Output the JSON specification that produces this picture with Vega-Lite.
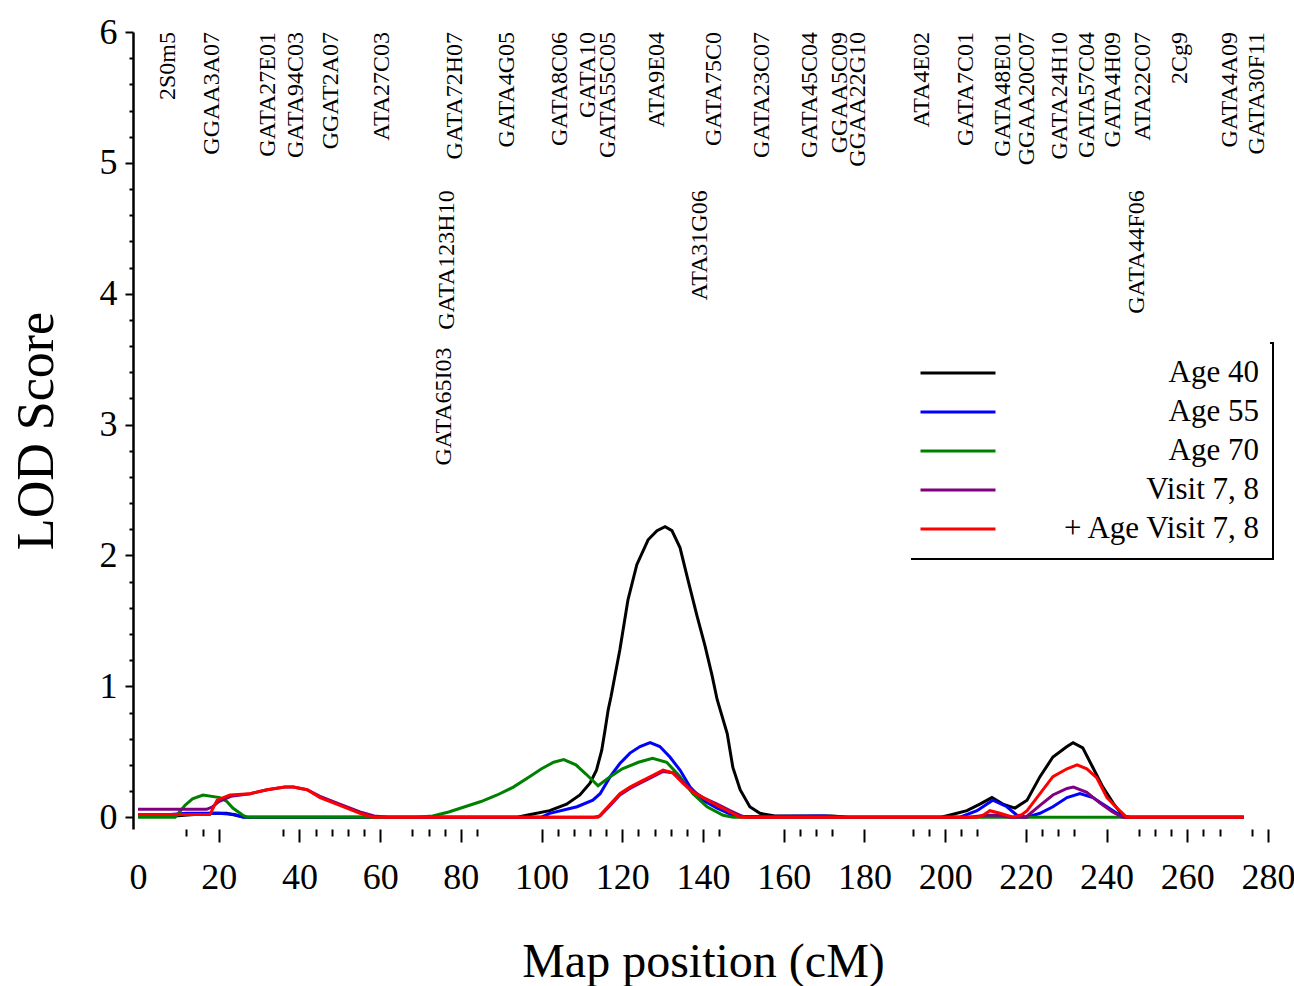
{
  "$schema": "https://vega.github.io/schema/vega-lite/v6.json",
  "width": 1130,
  "height": 797,
  "autosize": {"type": "none"},
  "padding": {"left": 138, "top": 32, "right": 26, "bottom": 157},
  "background": "white",
  "datasets": {
    "curves": [
      {"s":"Age 40","pos":0,"lod":0.01},{"s":"Age 40","pos":9,"lod":0.01},{"s":"Age 40","pos":14,"lod":0.02},{"s":"Age 40","pos":18,"lod":0.03},{"s":"Age 40","pos":22,"lod":0.03},{"s":"Age 40","pos":25,"lod":0.01},{"s":"Age 40","pos":27,"lod":0},{"s":"Age 40","pos":94,"lod":0},{"s":"Age 40","pos":96.3,"lod":0.015},{"s":"Age 40","pos":102,"lod":0.05},{"s":"Age 40","pos":106.2,"lod":0.1},{"s":"Age 40","pos":109.5,"lod":0.17},{"s":"Age 40","pos":112,"lod":0.26},{"s":"Age 40","pos":113.6,"lod":0.36},{"s":"Age 40","pos":114.9,"lod":0.51},{"s":"Age 40","pos":115.7,"lod":0.66},{"s":"Age 40","pos":116.5,"lod":0.82},{"s":"Age 40","pos":117.2,"lod":0.92},{"s":"Age 40","pos":119.4,"lod":1.28},{"s":"Age 40","pos":121.4,"lod":1.66},{"s":"Age 40","pos":123.6,"lod":1.93},{"s":"Age 40","pos":126.4,"lod":2.12},{"s":"Age 40","pos":128.6,"lod":2.19},{"s":"Age 40","pos":130.6,"lod":2.22},{"s":"Age 40","pos":132.3,"lod":2.19},{"s":"Age 40","pos":134.3,"lod":2.06},{"s":"Age 40","pos":136.3,"lod":1.81},{"s":"Age 40","pos":138.5,"lod":1.54},{"s":"Age 40","pos":140.5,"lod":1.31},{"s":"Age 40","pos":142.2,"lod":1.09},{"s":"Age 40","pos":143.5,"lod":0.9},{"s":"Age 40","pos":146,"lod":0.64},{"s":"Age 40","pos":147.4,"lod":0.38},{"s":"Age 40","pos":149.2,"lod":0.21},{"s":"Age 40","pos":151.6,"lod":0.08},{"s":"Age 40","pos":154.1,"lod":0.03},{"s":"Age 40","pos":157.8,"lod":0.01},{"s":"Age 40","pos":172,"lod":0.01},{"s":"Age 40","pos":176,"lod":0},{"s":"Age 40","pos":199,"lod":0},{"s":"Age 40","pos":201,"lod":0.015},{"s":"Age 40","pos":205.4,"lod":0.05},{"s":"Age 40","pos":208.6,"lod":0.1},{"s":"Age 40","pos":211.6,"lod":0.15},{"s":"Age 40","pos":214.3,"lod":0.1},{"s":"Age 40","pos":217.3,"lod":0.07},{"s":"Age 40","pos":220.3,"lod":0.13},{"s":"Age 40","pos":223.5,"lod":0.31},{"s":"Age 40","pos":226.7,"lod":0.46},{"s":"Age 40","pos":230.2,"lod":0.54},{"s":"Age 40","pos":231.7,"lod":0.57},{"s":"Age 40","pos":234.1,"lod":0.53},{"s":"Age 40","pos":236.6,"lod":0.38},{"s":"Age 40","pos":239.1,"lod":0.23},{"s":"Age 40","pos":241.6,"lod":0.11},{"s":"Age 40","pos":243.8,"lod":0.02},{"s":"Age 40","pos":244.8,"lod":0},{"s":"Age 40","pos":274,"lod":0},
      {"s":"Age 55","pos":0,"lod":0.01},{"s":"Age 55","pos":8,"lod":0.02},{"s":"Age 55","pos":12,"lod":0.03},{"s":"Age 55","pos":20,"lod":0.03},{"s":"Age 55","pos":24,"lod":0.02},{"s":"Age 55","pos":26,"lod":0},{"s":"Age 55","pos":100,"lod":0},{"s":"Age 55","pos":102,"lod":0.03},{"s":"Age 55","pos":108.8,"lod":0.08},{"s":"Age 55","pos":112.7,"lod":0.13},{"s":"Age 55","pos":114.5,"lod":0.18},{"s":"Age 55","pos":117,"lod":0.31},{"s":"Age 55","pos":119.4,"lod":0.41},{"s":"Age 55","pos":121.9,"lod":0.49},{"s":"Age 55","pos":124.4,"lod":0.54},{"s":"Age 55","pos":126.9,"lod":0.57},{"s":"Age 55","pos":129.3,"lod":0.54},{"s":"Age 55","pos":131.8,"lod":0.46},{"s":"Age 55","pos":134.3,"lod":0.36},{"s":"Age 55","pos":136.8,"lod":0.23},{"s":"Age 55","pos":140,"lod":0.13},{"s":"Age 55","pos":143.5,"lod":0.07},{"s":"Age 55","pos":147.4,"lod":0.015},{"s":"Age 55","pos":150,"lod":0.005},{"s":"Age 55","pos":170,"lod":0.01},{"s":"Age 55","pos":175,"lod":0},{"s":"Age 55","pos":203.7,"lod":0},{"s":"Age 55","pos":207.9,"lod":0.05},{"s":"Age 55","pos":211.8,"lod":0.13},{"s":"Age 55","pos":215.3,"lod":0.08},{"s":"Age 55","pos":217.8,"lod":0.015},{"s":"Age 55","pos":220.3,"lod":0},{"s":"Age 55","pos":223.5,"lod":0.03},{"s":"Age 55","pos":226.7,"lod":0.08},{"s":"Age 55","pos":230.2,"lod":0.15},{"s":"Age 55","pos":233.4,"lod":0.18},{"s":"Age 55","pos":236.6,"lod":0.15},{"s":"Age 55","pos":240.1,"lod":0.08},{"s":"Age 55","pos":243.3,"lod":0.015},{"s":"Age 55","pos":245.8,"lod":0},{"s":"Age 55","pos":274,"lod":0},
      {"s":"Age 70","pos":0,"lod":0},{"s":"Age 70","pos":9.2,"lod":0},{"s":"Age 70","pos":11.6,"lod":0.09},{"s":"Age 70","pos":13.5,"lod":0.14},{"s":"Age 70","pos":16.1,"lod":0.17},{"s":"Age 70","pos":20.3,"lod":0.15},{"s":"Age 70","pos":22,"lod":0.12},{"s":"Age 70","pos":23.5,"lod":0.07},{"s":"Age 70","pos":26,"lod":0.015},{"s":"Age 70","pos":27,"lod":0},{"s":"Age 70","pos":69,"lod":0},{"s":"Age 70","pos":73,"lod":0.01},{"s":"Age 70","pos":77,"lod":0.04},{"s":"Age 70","pos":81,"lod":0.08},{"s":"Age 70","pos":85,"lod":0.12},{"s":"Age 70","pos":89,"lod":0.17},{"s":"Age 70","pos":93,"lod":0.23},{"s":"Age 70","pos":97,"lod":0.31},{"s":"Age 70","pos":100,"lod":0.37},{"s":"Age 70","pos":103,"lod":0.42},{"s":"Age 70","pos":105.5,"lod":0.44},{"s":"Age 70","pos":108.5,"lod":0.4},{"s":"Age 70","pos":111,"lod":0.33},{"s":"Age 70","pos":114,"lod":0.24},{"s":"Age 70","pos":117,"lod":0.31},{"s":"Age 70","pos":120,"lod":0.37},{"s":"Age 70","pos":124,"lod":0.42},{"s":"Age 70","pos":127.5,"lod":0.45},{"s":"Age 70","pos":131,"lod":0.42},{"s":"Age 70","pos":134,"lod":0.32},{"s":"Age 70","pos":137.5,"lod":0.18},{"s":"Age 70","pos":141,"lod":0.08},{"s":"Age 70","pos":145,"lod":0.015},{"s":"Age 70","pos":147.5,"lod":0},{"s":"Age 70","pos":274,"lod":0},
      {"s":"Visit 7, 8","pos":0,"lod":0.06},{"s":"Visit 7, 8","pos":17,"lod":0.06},{"s":"Visit 7, 8","pos":18.5,"lod":0.08},{"s":"Visit 7, 8","pos":20,"lod":0.12},{"s":"Visit 7, 8","pos":23,"lod":0.16},{"s":"Visit 7, 8","pos":27.8,"lod":0.18},{"s":"Visit 7, 8","pos":32,"lod":0.21},{"s":"Visit 7, 8","pos":36.4,"lod":0.23},{"s":"Visit 7, 8","pos":38.5,"lod":0.23},{"s":"Visit 7, 8","pos":41.9,"lod":0.21},{"s":"Visit 7, 8","pos":45.1,"lod":0.16},{"s":"Visit 7, 8","pos":50,"lod":0.1},{"s":"Visit 7, 8","pos":55,"lod":0.04},{"s":"Visit 7, 8","pos":58.5,"lod":0.01},{"s":"Visit 7, 8","pos":62,"lod":0},{"s":"Visit 7, 8","pos":113,"lod":0},{"s":"Visit 7, 8","pos":114.5,"lod":0.01},{"s":"Visit 7, 8","pos":117,"lod":0.09},{"s":"Visit 7, 8","pos":119.4,"lod":0.17},{"s":"Visit 7, 8","pos":121.9,"lod":0.22},{"s":"Visit 7, 8","pos":124.4,"lod":0.26},{"s":"Visit 7, 8","pos":127.6,"lod":0.31},{"s":"Visit 7, 8","pos":130.1,"lod":0.35},{"s":"Visit 7, 8","pos":132.5,"lod":0.34},{"s":"Visit 7, 8","pos":135,"lod":0.27},{"s":"Visit 7, 8","pos":137.5,"lod":0.2},{"s":"Visit 7, 8","pos":140,"lod":0.15},{"s":"Visit 7, 8","pos":143.5,"lod":0.1},{"s":"Visit 7, 8","pos":146.7,"lod":0.05},{"s":"Visit 7, 8","pos":149.5,"lod":0.01},{"s":"Visit 7, 8","pos":151,"lod":0},{"s":"Visit 7, 8","pos":206,"lod":0},{"s":"Visit 7, 8","pos":210,"lod":0.015},{"s":"Visit 7, 8","pos":213,"lod":0.015},{"s":"Visit 7, 8","pos":216,"lod":0},{"s":"Visit 7, 8","pos":220,"lod":0},{"s":"Visit 7, 8","pos":223.5,"lod":0.09},{"s":"Visit 7, 8","pos":226.7,"lod":0.17},{"s":"Visit 7, 8","pos":230.2,"lod":0.22},{"s":"Visit 7, 8","pos":231.8,"lod":0.23},{"s":"Visit 7, 8","pos":235.1,"lod":0.19},{"s":"Visit 7, 8","pos":238.3,"lod":0.11},{"s":"Visit 7, 8","pos":241.5,"lod":0.04},{"s":"Visit 7, 8","pos":244,"lod":0},{"s":"Visit 7, 8","pos":274,"lod":0},
      {"s":"+ Age Visit 7, 8","pos":0,"lod":0.02},{"s":"+ Age Visit 7, 8","pos":17.8,"lod":0.02},{"s":"+ Age Visit 7, 8","pos":19.6,"lod":0.13},{"s":"+ Age Visit 7, 8","pos":22.8,"lod":0.17},{"s":"+ Age Visit 7, 8","pos":27.8,"lod":0.18},{"s":"+ Age Visit 7, 8","pos":32,"lod":0.21},{"s":"+ Age Visit 7, 8","pos":36.4,"lod":0.23},{"s":"+ Age Visit 7, 8","pos":38.5,"lod":0.23},{"s":"+ Age Visit 7, 8","pos":41.9,"lod":0.21},{"s":"+ Age Visit 7, 8","pos":45.1,"lod":0.15},{"s":"+ Age Visit 7, 8","pos":50,"lod":0.09},{"s":"+ Age Visit 7, 8","pos":55,"lod":0.03},{"s":"+ Age Visit 7, 8","pos":58.2,"lod":0},{"s":"+ Age Visit 7, 8","pos":114,"lod":0},{"s":"+ Age Visit 7, 8","pos":114.5,"lod":0.015},{"s":"+ Age Visit 7, 8","pos":117,"lod":0.1},{"s":"+ Age Visit 7, 8","pos":119.4,"lod":0.18},{"s":"+ Age Visit 7, 8","pos":121.9,"lod":0.23},{"s":"+ Age Visit 7, 8","pos":124.4,"lod":0.27},{"s":"+ Age Visit 7, 8","pos":127.6,"lod":0.32},{"s":"+ Age Visit 7, 8","pos":130.1,"lod":0.36},{"s":"+ Age Visit 7, 8","pos":132.5,"lod":0.34},{"s":"+ Age Visit 7, 8","pos":135,"lod":0.26},{"s":"+ Age Visit 7, 8","pos":137.5,"lod":0.19},{"s":"+ Age Visit 7, 8","pos":140,"lod":0.15},{"s":"+ Age Visit 7, 8","pos":143.5,"lod":0.09},{"s":"+ Age Visit 7, 8","pos":146.7,"lod":0.04},{"s":"+ Age Visit 7, 8","pos":149.2,"lod":0},{"s":"+ Age Visit 7, 8","pos":208,"lod":0},{"s":"+ Age Visit 7, 8","pos":209.4,"lod":0.015},{"s":"+ Age Visit 7, 8","pos":211.1,"lod":0.05},{"s":"+ Age Visit 7, 8","pos":213.6,"lod":0.03},{"s":"+ Age Visit 7, 8","pos":216.8,"lod":0},{"s":"+ Age Visit 7, 8","pos":219,"lod":0.02},{"s":"+ Age Visit 7, 8","pos":220.3,"lod":0.05},{"s":"+ Age Visit 7, 8","pos":223.5,"lod":0.18},{"s":"+ Age Visit 7, 8","pos":226.7,"lod":0.31},{"s":"+ Age Visit 7, 8","pos":230.2,"lod":0.37},{"s":"+ Age Visit 7, 8","pos":232.7,"lod":0.4},{"s":"+ Age Visit 7, 8","pos":235.1,"lod":0.37},{"s":"+ Age Visit 7, 8","pos":237.6,"lod":0.3},{"s":"+ Age Visit 7, 8","pos":240.1,"lod":0.15},{"s":"+ Age Visit 7, 8","pos":242.6,"lod":0.07},{"s":"+ Age Visit 7, 8","pos":245,"lod":0},{"s":"+ Age Visit 7, 8","pos":274,"lod":0}
    ],
    "markers": [
      {"label":"2S0m5","pos":7.4,"top":6},
      {"label":"GGAA3A07","pos":18.3,"top":6},
      {"label":"GATA27E01","pos":32.2,"top":6},
      {"label":"GATA94C03","pos":39.1,"top":6},
      {"label":"GGAT2A07","pos":47.8,"top":6},
      {"label":"ATA27C03","pos":60.5,"top":6},
      {"label":"GATA123H10","pos":76.6,"top":4.79},
      {"label":"GATA65I03","pos":75.9,"top":3.59},
      {"label":"GATA72H07","pos":78.5,"top":6},
      {"label":"GATA4G05","pos":91.4,"top":6},
      {"label":"GATA8C06","pos":104.6,"top":6},
      {"label":"GATA10","pos":111.5,"top":6},
      {"label":"GATA55C05","pos":116.5,"top":6},
      {"label":"ATA9E04","pos":128.6,"top":6},
      {"label":"ATA31G06","pos":139.2,"top":4.79},
      {"label":"GATA75C0","pos":142.7,"top":6},
      {"label":"GATA23C07","pos":154.6,"top":6},
      {"label":"GATA45C04","pos":166.5,"top":6},
      {"label":"GGAA5C09","pos":174,"top":6},
      {"label":"GGAA22G10","pos":178.4,"top":6},
      {"label":"ATA4E02","pos":194.3,"top":6},
      {"label":"GATA7C01","pos":205.2,"top":6},
      {"label":"GATA48E01","pos":214.3,"top":6},
      {"label":"GGAA20C07","pos":220.3,"top":6},
      {"label":"GATA24H10","pos":228.4,"top":6},
      {"label":"GATA57C04","pos":235.2,"top":6},
      {"label":"GATA4H09","pos":241.6,"top":6},
      {"label":"GATA44F06","pos":247.5,"top":4.79},
      {"label":"ATA22C07","pos":249,"top":6},
      {"label":"2Cg9","pos":258.2,"top":6},
      {"label":"GATA4A09","pos":270.6,"top":6},
      {"label":"GATA30F11","pos":277.3,"top":6}
    ]
  },
  "layer": [
    {
      "data": {"name": "curves"},
      "mark": {"type": "line", "strokeWidth": 3, "interpolate": "linear"},
      "encoding": {
        "x": {
          "field": "pos", "type": "quantitative",
          "scale": {"domain": [0, 280], "nice": false, "zero": false},
          "axis": {
            "values": [0, 20, 40, 60, 80, 100, 120, 140, 160, 180, 200, 220, 240, 260, 280],
            "domain": false, "grid": false,
            "tickSize": 13, "tickWidth": 2,
            "tickOpacity": {"condition": {"test": "datum.value == 0", "value": 0}, "value": 1},
            "labelFontSize": 36, "labelPadding": 18, "labelFlush": false, "labelOverlap": false,
            "title": "Map position (cM)", "titleFontSize": 48, "titlePadding": 43
          }
        },
        "y": {
          "field": "lod", "type": "quantitative",
          "scale": {"domain": [-0.09, 6], "nice": false, "zero": false},
          "axis": {
            "values": [0, 1, 2, 3, 4, 5, 6],
            "offset": 5, "domainWidth": 2.5, "grid": false,
            "tickSize": 8, "tickWidth": 2,
            "labelFontSize": 36, "labelPadding": 8, "labelFlush": false,
            "title": "LOD Score", "titleFontSize": 52, "titlePadding": 36
          }
        },
        "color": {
          "field": "s", "type": "nominal",
          "scale": {
            "domain": ["Age 40", "Age 55", "Age 70", "Visit 7, 8", "+ Age Visit 7, 8"],
            "range": ["#000000", "#0000ff", "#008000", "#800080", "#ff0000"]
          },
          "legend": {
            "orient": "none", "legendX": 767, "legendY": 311,
            "title": null,
            "symbolType": "stroke", "symbolSize": 5625, "symbolStrokeWidth": 3,
            "clipHeight": 32, "rowPadding": 7, "padding": 14,
            "labelFont": "Liberation Serif", "labelFontSize": 31, "labelColor": "black",
            "labelAlign": "right", "labelOffset": 262, "labelLimit": 400,
            "encode": {
              "legend": {
                "update": {
                  "stroke": {"value": "black"},
                  "strokeWidth": {"value": 2},
                  "strokeDash": {"value": [0, 365, 581, 400]}
                }
              }
            }
          }
        }
      }
    },
    {
      "data": {"name": "markers"},
      "mark": {"type": "text", "angle": 270, "align": "right", "baseline": "middle", "font": "Liberation Serif", "fontSize": 24, "color": "black"},
      "encoding": {
        "x": {
          "field": "pos", "type": "quantitative",
          "axis": {
            "orient": "bottom",
            "values": [12, 16, 36, 44, 48, 52, 56, 68, 72, 76, 84, 104, 108, 112, 116, 124, 128, 132, 136, 144, 164, 168, 172, 192, 196, 204, 208, 224, 228, 232, 248, 252, 256, 264, 268, 276],
            "domain": false, "labels": false, "grid": false,
            "tickSize": 7, "tickWidth": 2, "title": null
          }
        },
        "y": {
          "field": "top", "type": "quantitative",
          "axis": {
            "orient": "left", "offset": 5,
            "values": [0.2, 0.4, 0.6, 0.8, 1.2, 1.4, 1.6, 1.8, 2.2, 2.4, 2.6, 2.8, 3.2, 3.4, 3.6, 3.8, 4.2, 4.4, 4.6, 4.8, 5.2, 5.4, 5.6, 5.8],
            "domain": false, "labels": false, "grid": false,
            "tickSize": 4, "tickWidth": 2, "title": null
          }
        },
        "text": {"field": "label"}
      }
    }
  ],
  "resolve": {"axis": {"x": "independent", "y": "independent"}},
  "config": {
    "view": {"stroke": null},
    "axis": {
      "labelFont": "Liberation Serif", "titleFont": "Liberation Serif",
      "labelColor": "black", "titleColor": "black",
      "domainColor": "black", "tickColor": "black",
      "titleFontWeight": "normal"
    }
  }
}
